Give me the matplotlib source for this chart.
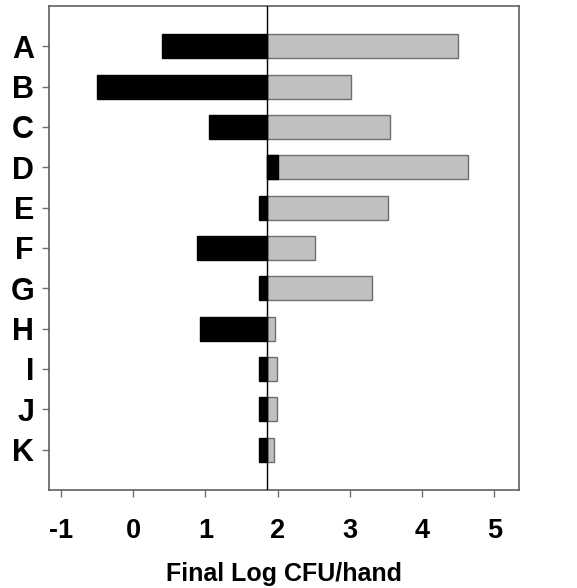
import matplotlib
matplotlib.use("Agg")
import matplotlib.pyplot as plt
import numpy as np

plt.rcParams["font.family"] = ["Liberation Sans", "DejaVu Sans"]

# data
labels = ["A", "B", "C", "D", "E", "F", "G", "H", "I", "J", "K"]
baseline = 1.85
black_end = [0.40, -0.50, 1.05, 2.00, 1.74, 0.88, 1.74, 0.93, 1.74, 1.74, 1.74]
gray_end = [4.49, 3.02, 3.56, 4.63, 3.53, 2.52, 3.30, 1.96, 1.99, 1.99, 1.95]
xticks = [-1, 0, 1, 2, 3, 4, 5]

y = np.arange(len(labels))
black_w = np.array(black_end) - baseline
gray_w = np.array(gray_end) - baseline

fig = plt.figure(figsize=(5.77, 5.88), dpi=100)
ax = fig.add_axes([0.0855, 0.1667, 0.814, 0.8231])

ax.barh(y, gray_w, left=baseline, height=0.6, color="#c0c0c0",
        edgecolor="#6e6e6e", linewidth=1.0, zorder=2)
ax.barh(y, black_w, left=baseline, height=0.6, color="black",
        edgecolor="black", linewidth=1.0, zorder=3)
ax.axvline(baseline, color="black", linewidth=1.0, zorder=4)

ax.set_xlim(-1.158, 5.34)
ax.set_ylim(11, -1)
ax.set_yticks(y)
ax.set_yticklabels(labels, fontsize=22, fontweight="bold")
ax.set_xticks(xticks)
ax.set_xticklabels([str(t) for t in xticks], fontsize=19.5, fontweight="bold")
ax.tick_params(axis="y", length=5, width=1, color="#707070", pad=6)
ax.tick_params(axis="x", length=5, width=1, color="#707070", pad=15)
for s in ax.spines.values():
    s.set_color("#606060")
    s.set_linewidth(1.2)

ax.set_xlabel("Final Log CFU/hand", fontsize=18, fontweight="bold", labelpad=13)

fig.savefig("out.png", dpi=100)
